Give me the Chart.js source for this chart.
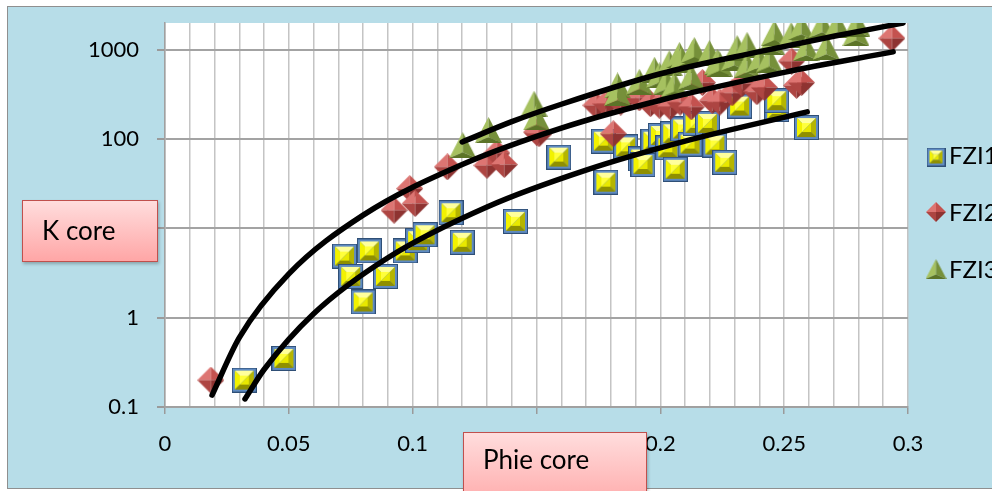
<!DOCTYPE html>
<html>
<head>
<meta charset="utf-8">
<script src="https://cdn.jsdelivr.net/npm/chart.js@4.4.1/dist/chart.umd.min.js"></script>
<style>
  html, body { margin: 0; padding: 0; background: #fff; }
  #wrap { position: relative; width: 992px; height: 491px; overflow: hidden; font-family: Lato, sans-serif; }
  #bg { position: absolute; left: 7px; top: 6px; width: 1010px; height: 481px; background: #b7dde8; border: 1.5px solid #8f8f8f; }
  #c { position: absolute; left: 0; top: 0; }
  .lbl { position: absolute; box-sizing: border-box; border: 1.5px solid #c0504d;
         background: linear-gradient(#ffdddd, #ffa6a6); font-size: 26px; color: #000;
         box-shadow: 1px 2px 3px rgba(0,0,0,0.25); }
  #kcore { left: 22px; top: 200px; width: 136px; height: 62px; line-height: 59px; padding-left: 19px; }
  #phie { left: 463px; top: 432px; width: 184px; height: 80px; line-height: 30px; padding-left: 19px; padding-top: 11px; }
</style>
</head>
<body>
<div id="wrap">
  <div id="bg"></div>
  <canvas id="c" width="992" height="491"></canvas>
  <div id="kcore" class="lbl">K core</div>
  <div id="phie" class="lbl">Phie core</div>
</div>
<script>
// FZI1 squares
const phiFzi1 = [0.032, 0.048, 0.0725, 0.075, 0.080, 0.0825, 0.089, 0.097, 0.102, 0.105, 0.1155, 0.120, 0.1415,
  0.159, 0.177, 0.178, 0.186, 0.192, 0.193, 0.197, 0.200, 0.203, 0.205, 0.206, 0.209, 0.212, 0.214, 0.219,
  0.222, 0.226, 0.232, 0.247, 0.247, 0.259];
const kFzi1 = [0.2, 0.35, 4.9, 2.9, 1.5, 5.6, 2.9, 5.6, 7.3, 8.5, 15, 7, 12,
  63, 95, 33, 82, 60, 52, 95, 110, 80, 115, 46, 130, 88, 150, 150,
  86, 55, 235, 215, 270, 135];

// FZI2 diamonds
const phiFzi2 = [0.0185, 0.0925, 0.0988, 0.101, 0.114, 0.130, 0.134, 0.137, 0.150, 0.151, 0.174, 0.181, 0.178,
  0.184, 0.1915, 0.196, 0.1996, 0.204, 0.208, 0.2125, 0.217, 0.221, 0.224, 0.229, 0.233, 0.239, 0.242,
  0.253, 0.255, 0.257, 0.2935];
const kFzi2 = [0.2, 16, 28, 19, 49, 51, 70, 52, 120, 115, 240, 115, 250,
  260, 290, 250, 240, 230, 260, 230, 430, 270, 260, 330, 420, 340, 380,
  750, 400, 430, 1350];

// FZI3 triangles
const phiFzi3 = [0.1202, 0.1306, 0.149, 0.150, 0.1827, 0.1827, 0.1915, 0.1976, 0.1996, 0.2024, 0.2036, 0.2056,
  0.2077, 0.2085, 0.2125, 0.213, 0.2137, 0.2198, 0.223, 0.2238, 0.2298, 0.231, 0.235, 0.235, 0.240, 0.244,
  0.2448, 0.246, 0.2528, 0.2569, 0.2589, 0.2653, 0.267, 0.2714, 0.279, 0.2794];
const kFzi3 = [86, 127, 250, 175, 400, 330, 440, 600, 520, 440, 710, 410,
  880, 770, 500, 925, 1000, 925, 735, 700, 810, 1050, 1140, 680, 770, 780,
  1230, 1550, 1470, 1800, 1050, 1900, 1080, 1900, 1550, 1950];

// trend curves
const trendPhiA = [0.120, 0.140, 0.160, 0.200, 0.240, 0.270, 0.298];
const trendKA = [93, 157, 246, 540, 955, 1420, 2000];
const trendPhiB = [0.019, 0.030, 0.050, 0.080, 0.120, 0.160, 0.200, 0.250, 0.294];
const trendKB = [0.136, 0.6, 3.1, 14.1, 52, 133, 273, 560, 950];
const trendPhiC = [0.0323, 0.040, 0.060, 0.090, 0.130, 0.170, 0.210, 0.2593];
const trendKC = [0.123, 0.263, 1.11, 4.7, 17.4, 45, 95, 202];

const seriesNames = ["FZI1", "FZI2", "FZI3"];
const yTickValues = [0.1, 1, 10, 100, 1000];

function pts(xs, ys) { return xs.map((x, i) => ({ x: x, y: ys[i] })); }

function poly(g, p, color) {
  g.fillStyle = color;
  g.beginPath();
  g.moveTo(p[0][0], p[0][1]);
  for (let i = 1; i < p.length; i++) g.lineTo(p[i][0], p[i][1]);
  g.closePath();
  g.fill();
}

function makeSquare(s) {
  const c = document.createElement("canvas");
  c.width = s; c.height = s;
  const g = c.getContext("2d");
  g.fillStyle = "#2f4f76"; g.fillRect(0, 0, s, s);
  g.fillStyle = "#5f8bc2"; g.fillRect(1, 1, s - 2, s - 2);
  const a = 3, b = s - 3, d = s * 0.2;
  poly(g, [[a, a], [b, a], [b - d, a + d], [a + d, a + d]], "#ffff9c");
  poly(g, [[a, a], [a + d, a + d], [a + d, b - d], [a, b]], "#f2f200");
  poly(g, [[b, a], [b, b], [b - d, b - d], [b - d, a + d]], "#b5b500");
  poly(g, [[a, b], [a + d, b - d], [b - d, b - d], [b, b]], "#8f8f00");
  poly(g, [[a + d, a + d], [b - d, a + d], [a + d, b - d]], "#ffff3a");
  poly(g, [[b - d, a + d], [b - d, b - d], [a + d, b - d]], "#e8e800");
  return c;
}

function makeDiamond(s) {
  const c = document.createElement("canvas");
  c.width = s; c.height = s;
  const g = c.getContext("2d");
  const m = s / 2;
  poly(g, [[0, m], [m, 0], [m, m]], "#dd7572");
  poly(g, [[m, 0], [s, m], [m, m]], "#c4524f");
  poly(g, [[0, m], [m, s], [m, m]], "#ad4542");
  poly(g, [[s, m], [m, s], [m, m]], "#8e3331");
  return c;
}

function makeTriangle(w, h) {
  const c = document.createElement("canvas");
  c.width = w; c.height = h;
  const g = c.getContext("2d");
  const m = w / 2, k = h * 0.78;
  poly(g, [[0, h], [m, 0], [m, k]], "#a6c160");
  poly(g, [[w, h], [m, 0], [m, k]], "#76903a");
  poly(g, [[0, h], [w, h], [m, k]], "#5c7428");
  return c;
}

const sqMark = makeSquare(25), dmMark = makeDiamond(27), trMark = makeTriangle(27, 26);
const sqLeg = makeSquare(19), dmLeg = makeDiamond(20), trLeg = makeTriangle(21, 20);

const bgPlugin = {
  id: "plotBg",
  beforeDraw(chart) {
    const a = chart.chartArea, ctx = chart.ctx;
    ctx.save();
    ctx.fillStyle = "#ffffff";
    ctx.fillRect(a.left, a.top, a.right - a.left, a.bottom - a.top);
    ctx.restore();
  }
};

const legendPlugin = {
  id: "sideLegend",
  afterDraw(chart) {
    const ctx = chart.ctx;
    const marks = [[sqLeg, 157], [dmLeg, 212], [trLeg, 269]];
    const baselines = [164, 221, 278];
    ctx.save();
    marks.forEach((m, i) => {
      ctx.drawImage(m[0], 936 - m[0].width / 2, m[1] - m[0].height / 2);
      ctx.fillStyle = "#000";
      ctx.font = "24px Lato";
      ctx.textBaseline = "alphabetic";
      ctx.fillText(seriesNames[i], 949, baselines[i]);
    });
    ctx.restore();
  }
};

function trend(xs, ys) {
  return {
    type: "line", data: pts(xs, ys), showLine: true, borderColor: "#000", borderWidth: 5.5,
    pointRadius: 0, cubicInterpolationMode: "monotone", fill: false, order: 1, borderCapStyle: "round"
  };
}

new Chart(document.getElementById("c"), {
  type: "scatter",
  data: {
    datasets: [
      { label: seriesNames[0], data: pts(phiFzi1, kFzi1), pointStyle: sqMark, pointRadius: 12, order: 4 },
      { label: seriesNames[1], data: pts(phiFzi2, kFzi2), pointStyle: dmMark, pointRadius: 12, order: 3 },
      { label: seriesNames[2], data: pts(phiFzi3, kFzi3), pointStyle: trMark, pointRadius: 12, order: 2 },
      trend(trendPhiA, trendKA),
      trend(trendPhiB, trendKB),
      trend(trendPhiC, trendKC)
    ]
  },
  options: {
    responsive: false,
    animation: false,
    devicePixelRatio: 1,
    layout: { autoPadding: false, padding: { left: 0, top: 23, right: 84, bottom: 0 } },
    plugins: { legend: { display: false }, tooltip: { enabled: false } },
    scales: {
      x: {
        type: "linear", min: 0, max: 0.3,
        afterFit(s) { s.height = 84; s.paddingLeft = 0; s.paddingRight = 0; },
        ticks: {
          stepSize: 0.01, autoSkip: false, maxRotation: 0, padding: 17,
          color: "#000", font: { family: "Lato", size: 22 },
          callback: (v, i) => (i % 5 === 0 ? String(Number(v.toFixed(2))) : "")
        },
        grid: {
          color: "#c4c4c4", lineWidth: 1.5, tickLength: 7,
          tickColor: (c) => (c.index % 5 === 0 ? "#9a9a9a" : "rgba(0,0,0,0)")
        },
        border: { color: "#a0a0a0", width: 1.5 }
      },
      y: {
        type: "logarithmic", min: 0.1, max: 2000,
        afterFit(s) { s.width = 165; s.paddingTop = 0; s.paddingBottom = 0; },
        afterBuildTicks(s) { s.ticks = yTickValues.map((v) => ({ value: v })); },
        ticks: {
          padding: 18, color: "#000", font: { family: "Lato", size: 22 },
          callback: (v) => String(v)
        },
        grid: { color: "#a3a3a3", lineWidth: 2, tickLength: 8, tickColor: "#9a9a9a" },
        border: { color: "#a0a0a0", width: 1.5 }
      }
    }
  },
  plugins: [bgPlugin, legendPlugin]
});
</script>
</body>
</html>
